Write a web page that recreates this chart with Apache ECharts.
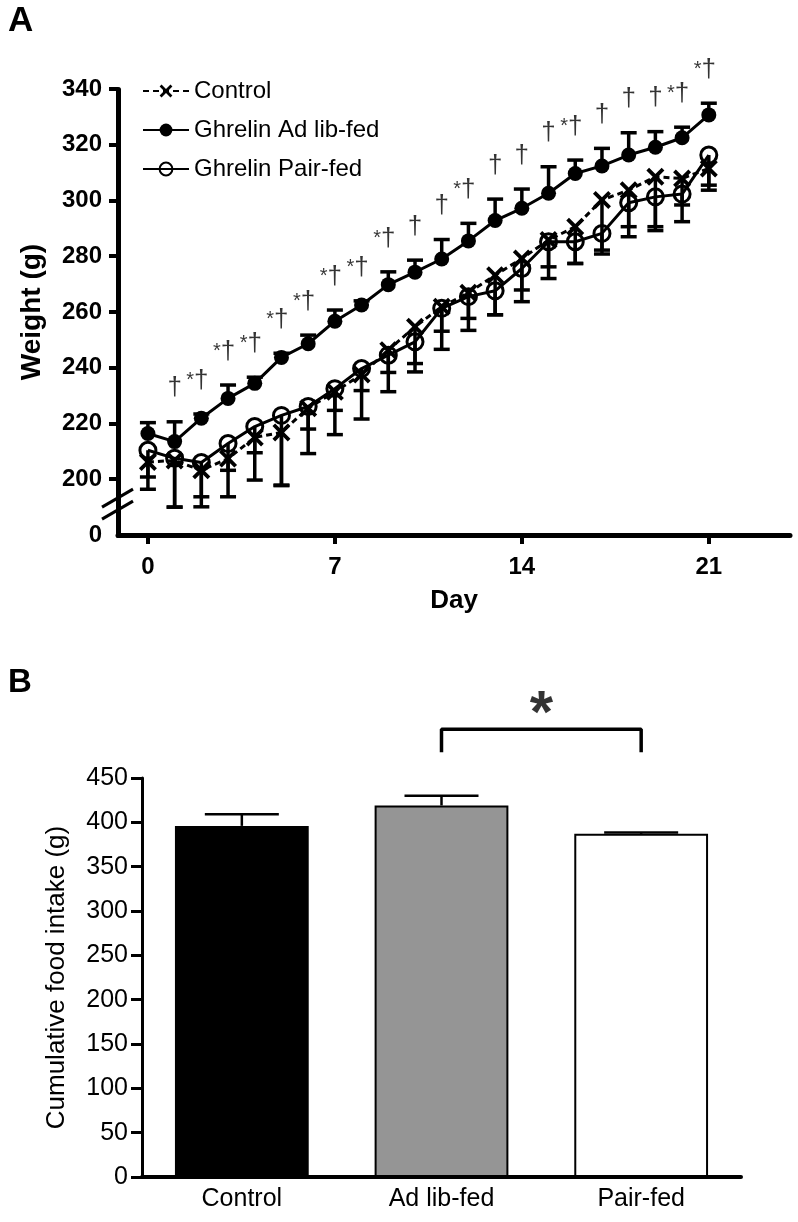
<!DOCTYPE html>
<html><head><meta charset="utf-8">
<script src="https://cdn.jsdelivr.net/npm/echarts@6/dist/echarts.min.js"></script>
<style>html,body{margin:0;padding:0;background:#fff}#c{width:798px;height:1222px}</style>
</head><body><div id="c"></div>
<script>
// ---------- Panel A data ----------
const days = [0,1,2,3,4,5,6,7,8,9,10,11,12,13,14,15,16,17,18,19,20,21];
const controlMean = [206.2,206.7,203.2,207.4,215.0,216.8,225.5,231.4,237.6,246.3,254.7,261.9,266.9,273.2,279.2,285.8,290.6,300.2,303.7,308.5,307.9,311.5];
const controlSem  = [9.8,16.7,13.1,13.7,15.3,19.1,16.3,15.4,16.0,14.9,16.2,15.3,13.5,14.2,15.5,13.8,13.2,19.4,16.7,19.3,9.5,7.8];
const adlibMean   = [216.4,213.5,221.9,229.0,234.4,243.7,248.6,256.7,262.5,269.8,274.3,279.0,285.5,292.8,297.2,302.6,309.7,312.4,316.3,319.1,322.5,330.7];
const adlibSem    = [3.9,7.1,1.5,4.8,2.2,1.5,3.1,4.0,1.5,4.6,4.3,7.0,6.3,7.7,6.9,9.5,4.8,6.3,8.0,5.6,3.8,4.2];
const pairMean    = [210.4,207.5,206.0,212.8,218.9,222.9,226.1,232.5,239.7,244.5,249.3,261.3,265.5,267.6,275.6,285.2,285.2,288.2,299.2,301.3,302.3,316.3];
const pairSem     = [9.6,17.5,12.3,9.6,9.4,25.0,8.1,7.8,7.9,6.2,7.8,8.2,7.8,8.6,7.7,9.0,7.8,6.0,8.6,10.7,9.9,10.8];
const sigLabels   = ['','†','*†','*†','*†','*†','*†','*†','*†','*†','†','†','*†','†','†','†','*†','†','†','†','*†','*†'];
const dayTicks    = [0,7,14,21];
const weightTicks = [0,200,220,240,260,280,300,320,340];
const weightBreak = [0,180];

// ---------- Panel B data ----------
const intakeCats = ['Control','Ad lib-fed','Pair-fed'];
const intakeMean = [396,419,387];
const intakeSem  = [13,11,1.5];
const bracketX   = [1,1,2,2];
const bracketY   = [479,505,505,479];
const starPos    = [1.5,505];

const FONT = 'Liberation Sans, Arial, Helvetica, sans-serif';
const X_PATH = 'path://M0,1.5L1.5,0L5,3.5L8.5,0L10,1.5L6.5,5L10,8.5L8.5,10L5,6.5L1.5,10L0,8.5L3.5,5Z';
const barStyles = [
  {color:'#000000', borderColor:'#000000', borderWidth:2},
  {color:'#959595', borderColor:'#000000', borderWidth:2},
  {color:'#ffffff', borderColor:'#000000', borderWidth:2}
];

function errRender(capW, lw){
  return function(params, api){
    const x = api.value(0), m = api.value(1), e = api.value(2);
    const p0 = api.coord([x, m]), p1 = api.coord([x, e]);
    const st = {stroke:'#000', lineWidth:lw};
    return {type:'group', children:[
      {type:'line', shape:{x1:p0[0], y1:p0[1], x2:p1[0], y2:p1[1]}, style:st},
      {type:'line', shape:{x1:p1[0]-capW/2, y1:p1[1], x2:p1[0]+capW/2, y2:p1[1]}, style:st}
    ]};
  };
}

const chart = echarts.init(document.getElementById('c'), null, {renderer:'canvas'});
const option = {
  animation:false,
  backgroundColor:'#fff',
  textStyle:{fontFamily:FONT, color:'#000'},
  title:[
    {text:'A', left:8, top:4, padding:0, textStyle:{fontSize:35, fontWeight:'bold', color:'#000', fontFamily:FONT}},
    {text:'B', left:8, top:666, padding:0, textStyle:{fontSize:33, fontWeight:'bold', color:'#000', fontFamily:FONT}}
  ],
  legend:{
    data:['Control','Ghrelin Ad lib-fed','Ghrelin Pair-fed'],
    orient:'vertical', left:137, top:74, itemWidth:46, itemHeight:16, itemGap:15,
    textStyle:{fontSize:24, color:'#000', fontFamily:FONT},
    selectedMode:false
  },
  grid:[
    {left:118, right:8, top:89, bottom:687, containLabel:false},
    {left:142, right:57, top:778, bottom:45, containLabel:false}
  ],
  xAxis:[
    {type:'value', gridIndex:0, min:-1.12, max:24.04,
     axisLine:{show:true, onZero:false, lineStyle:{color:'#000', width:5}},
     axisTick:{show:true, customValues:dayTicks, length:9, lineStyle:{color:'#000', width:4}},
     axisLabel:{show:true, customValues:dayTicks, fontSize:24, fontWeight:'bold', color:'#000', margin:20, fontFamily:FONT},
     splitLine:{show:false},
     name:'Day', nameLocation:'middle', nameGap:53,
     nameTextStyle:{fontSize:26, fontWeight:'bold', color:'#000', fontFamily:FONT}},
    {type:'category', gridIndex:1, data:intakeCats,
     axisLine:{show:true, onZero:false, lineStyle:{color:'#000', width:4}},
     axisTick:{show:false},
     axisLabel:{fontSize:25, color:'#000', margin:10, fontFamily:FONT},
     splitLine:{show:false}},
    {type:'value', gridIndex:1, min:-0.5, max:2.5, show:false}
  ],
  yAxis:[
    {type:'value', gridIndex:0, min:0, max:340, interval:20,
     breaks:[{start:weightBreak[0], end:weightBreak[1], gap:0.01}],
     breakArea:{show:false},
     axisLine:{show:true, onZero:false, lineStyle:{color:'#000', width:5}},
     axisTick:{show:true, customValues:weightTicks.slice(1), length:9, lineStyle:{color:'#000', width:4}},
     axisLabel:{customValues:weightTicks, fontSize:24, fontWeight:'bold', color:'#000', margin:16, fontFamily:FONT},
     splitLine:{show:false},
     name:'Weight (g)', nameLocation:'middle', nameGap:72,
     nameTextStyle:{fontSize:28, fontWeight:'bold', color:'#000', fontFamily:FONT}},
    {type:'value', gridIndex:1, min:0, max:450, interval:50,
     axisLine:{show:true, onZero:false, lineStyle:{color:'#000', width:3}},
     axisTick:{show:true, length:11, lineStyle:{color:'#000', width:3}},
     axisLabel:{fontSize:25, color:'#000', margin:14, fontFamily:FONT},
     splitLine:{show:false},
     name:'Cumulative food intake (g)', nameLocation:'middle', nameGap:72,
     nameTextStyle:{fontSize:26, color:'#000', fontFamily:FONT}}
  ],
  series:[
    {type:'custom', name:'errC', xAxisIndex:0, yAxisIndex:0, renderItem:errRender(16,3.5), z:1,
     data:days.map((d,i)=>[d, controlMean[i], controlMean[i]-controlSem[i]])},
    {type:'custom', name:'errP', xAxisIndex:0, yAxisIndex:0, renderItem:errRender(16,3.5), z:1,
     data:days.map((d,i)=>[d, pairMean[i], pairMean[i]-pairSem[i]])},
    {type:'custom', name:'errA', xAxisIndex:0, yAxisIndex:0, renderItem:errRender(16,3.5), z:1,
     data:days.map((d,i)=>[d, adlibMean[i], adlibMean[i]+adlibSem[i]])},
    {type:'line', name:'Control', xAxisIndex:0, yAxisIndex:0, z:3,
     data:days.map((d,i)=>[d, controlMean[i]]),
     symbol:X_PATH, symbolSize:18, showSymbol:true,
     itemStyle:{color:'#000'}, lineStyle:{color:'#000', width:3, type:[6,4]}},
    {type:'line', name:'Ghrelin Ad lib-fed', xAxisIndex:0, yAxisIndex:0, z:3,
     data:days.map((d,i)=>[d, adlibMean[i]]),
     symbol:'circle', symbolSize:15,
     itemStyle:{color:'#000'}, lineStyle:{color:'#000', width:3}},
    {type:'line', name:'Ghrelin Pair-fed', xAxisIndex:0, yAxisIndex:0, z:3,
     data:days.map((d,i)=>[d, pairMean[i]]),
     symbol:'circle', symbolSize:16,
     itemStyle:{color:'rgba(255,255,255,0)', borderColor:'#000', borderWidth:3},
     lineStyle:{color:'#000', width:3}},
    {type:'scatter', name:'sig', xAxisIndex:0, yAxisIndex:0, z:4, clip:false,
     symbolSize:1, itemStyle:{color:'rgba(0,0,0,0)'},
     data:days.map((d,i)=>[d, adlibMean[i]+adlibSem[i]]),
     label:{show:true, position:'top', distance:20,
       formatter:p=>{const s=sigLabels[p.dataIndex]; if(!s) return ''; return s.indexOf('*')>=0 ? '{s|*}{d|†}{pad|}' : '{d|†}';},
       rich:{s:{fontSize:20, color:'#000', fontFamily:FONT}, d:{fontSize:26, color:'#000', fontFamily:FONT}, pad:{width:8}}}},
    // Panel B
    {type:'bar', name:'intake', xAxisIndex:1, yAxisIndex:1, barCategoryGap:'33%', z:2,
     data:intakeMean.map((v,i)=>({value:v, itemStyle:barStyles[i]}))},
    {type:'custom', name:'errB', xAxisIndex:2, yAxisIndex:1, renderItem:errRender(74,2.5), z:1,
     data:intakeMean.map((v,i)=>[i, v, v+intakeSem[i]])},
    {type:'line', name:'bracket', xAxisIndex:2, yAxisIndex:1, symbol:'none', z:3, clip:false,
     data:bracketX.map((x,i)=>[x, bracketY[i]]),
     lineStyle:{color:'#000', width:3.5}},
    {type:'scatter', name:'star', xAxisIndex:2, yAxisIndex:1, symbolSize:1, clip:false,
     itemStyle:{color:'rgba(0,0,0,0)'}, data:[starPos],
     label:{show:true, position:'top', distance:-17, formatter:'*', fontSize:60, fontWeight:'bold', color:'#000', fontFamily:FONT}}
  ]
};
chart.setOption(option);

// axis-break slashes on the weight axis, centred between the "0" tick and the first real tick
const yLo = chart.convertToPixel({yAxisIndex:0}, weightTicks[0]);
const yHi = chart.convertToPixel({yAxisIndex:0}, weightTicks[1]);
const xAx = chart.convertToPixel({xAxisIndex:0}, -1.12);
const mid = (yLo + yHi) / 2 - 3;
chart.setOption({graphic:[-6, 6].map(o=>({
  type:'line', z:100,
  shape:{x1:xAx-16, y1:mid+o+9, x2:xAx+15, y2:mid+o-9},
  style:{stroke:'#000', lineWidth:3}
}))});
</script></body></html>
